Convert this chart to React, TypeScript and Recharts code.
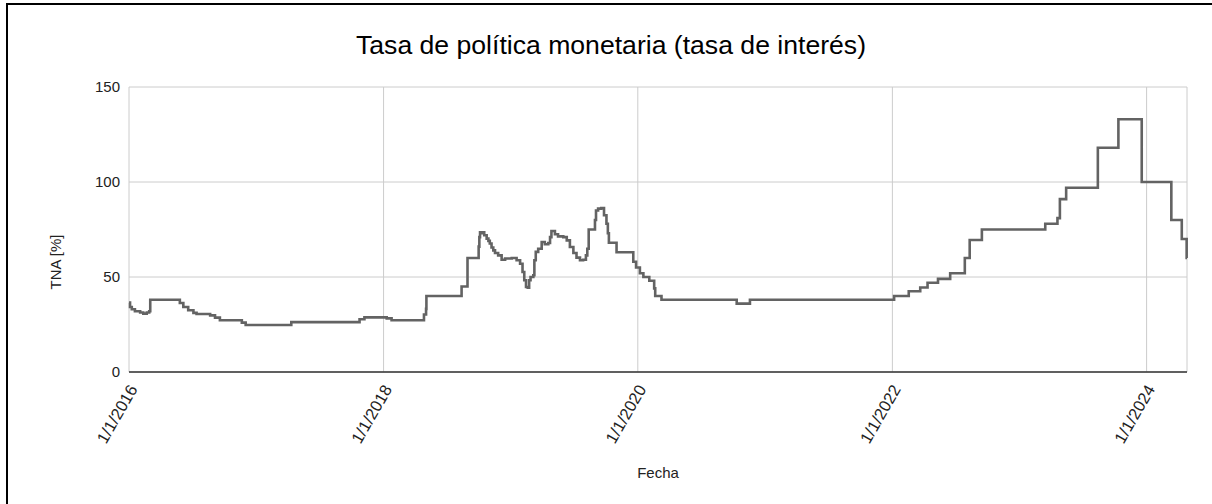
import React from 'react';
import { LineChart, Line, XAxis, YAxis, CartesianGrid, Label } from 'recharts';

// Dates on which the policy rate changed (the rate holds until the next date)
const changeDates = [
  '2016-01-01', '2016-01-04', '2016-01-09', '2016-01-18', '2016-02-02', '2016-02-11',
  '2016-02-21', '2016-02-28', '2016-03-02', '2016-05-19', '2016-05-26', '2016-06-05',
  '2016-06-19', '2016-07-04', '2016-07-13', '2016-08-21', '2016-09-04', '2016-09-18',
  '2016-11-20', '2016-12-01', '2017-04-11', '2017-10-24', '2017-11-07', '2018-01-10',
  '2018-01-24', '2018-04-27', '2018-05-03', '2018-05-04', '2018-08-13', '2018-08-30',
  '2018-10-01', '2018-10-03', '2018-10-05', '2018-10-10', '2018-10-12', '2018-10-17',
  '2018-10-24', '2018-10-29', '2018-11-02', '2018-11-07', '2018-11-12', '2018-11-17',
  '2018-11-26', '2018-12-06', '2018-12-16', '2019-01-04', '2019-01-18', '2019-01-28',
  '2019-02-04', '2019-02-09', '2019-02-14', '2019-02-19', '2019-02-23', '2019-02-27',
  '2019-03-07', '2019-03-10', '2019-03-14', '2019-03-21', '2019-03-31', '2019-04-09',
  '2019-04-19', '2019-04-24', '2019-04-28', '2019-05-08', '2019-05-17', '2019-06-01',
  '2019-06-11', '2019-06-20', '2019-06-30', '2019-07-09', '2019-07-19', '2019-07-28',
  '2019-08-05', '2019-08-09', '2019-08-13', '2019-08-31', '2019-09-03', '2019-09-09',
  '2019-09-18', '2019-09-26', '2019-10-03', '2019-10-07', '2019-10-10', '2019-11-01',
  '2019-12-19', '2019-12-27', '2020-01-07', '2020-01-17', '2020-02-03', '2020-02-17',
  '2020-02-20', '2020-03-09', '2020-10-11', '2020-11-18', '2022-01-06', '2022-02-17',
  '2022-03-22', '2022-04-12', '2022-05-12', '2022-06-16', '2022-07-28', '2022-08-11',
  '2022-09-15', '2023-03-16', '2023-04-20', '2023-04-27', '2023-05-15', '2023-08-14',
  '2023-10-12', '2023-12-18', '2024-03-12', '2024-04-11', '2024-04-25', '2024-04-26',
];

// Nominal annual rate (TNA, %) in force from each date above
const rateValues = [
  36.5, 34.2, 33, 32, 31.3, 30.7,
  31.3, 32, 38, 38, 36.3, 34.2,
  32.5, 31.1, 30.5, 29.8, 28.6, 27.25,
  26, 24.75, 26.25, 27.75, 28.75, 28.25,
  27.25, 30.25, 33.25, 40, 45, 60,
  66, 71, 73.5, 73, 73.5, 72,
  70.2, 69, 67.6, 65.5, 64, 62.6,
  61.4, 59.1, 59.7, 60, 58.8, 57,
  52.6, 48.3, 44.7, 44.4, 48.3, 50,
  50.9, 58.8, 63.2, 64.9, 68.4, 67.2,
  67.9, 71, 74.2, 72.5, 71.4, 71,
  69.3, 65.8, 62.6, 60.2, 58.8, 59.1,
  61.4, 64.9, 75, 80, 85, 86,
  86.3, 82.5, 78, 73, 68, 63,
  58, 55, 52, 50, 48, 44,
  40, 38, 36, 38, 40, 42.5,
  44.5, 47, 49, 52, 60, 69.5,
  75, 78, 81, 91, 97, 118,
  133, 100, 80, 70, 60, 60,
];

const dateTicks = ['2016-01-01', '2018-01-01', '2020-01-01', '2022-01-01', '2024-01-01'];
const rateTicks = [0, 50, 100, 150];

const FONT = '"Liberation Sans", Arial, Helvetica, sans-serif';

const toTime = (s: string) => {
  const [y, m, d] = s.split('-').map(Number);
  return Date.UTC(y, m - 1, d);
};

const data = changeDates.map((d, i) => ({ t: toTime(d), v: rateValues[i] }));

const formatDate = (t: number) => {
  const d = new Date(t);
  return `${d.getUTCMonth() + 1}/${d.getUTCDate()}/${d.getUTCFullYear()}`;
};

const DateTick = (props: any) => {
  const { x, y, payload } = props;
  return (
    <g transform={`translate(${x + 9},${y + 17})`}>
      <text
        x={0}
        y={0}
        textAnchor="end"
        transform="rotate(-60)"
        fontSize={16.5}
        fontFamily={FONT}
        fill="#222"
      >
        {formatDate(payload.value)}
      </text>
    </g>
  );
};

export default function App() {
  return (
    <div style={{ position: 'absolute', left: 0, top: 0, width: 1212, height: 504, background: '#fff', overflow: 'hidden' }}>
      <div
        style={{
          position: 'absolute',
          left: 6,
          top: 3,
          right: 0,
          bottom: 0,
          borderLeft: '2px solid #000',
          borderTop: '2px solid #000',
        }}
      />
      <div
        style={{
          position: 'absolute',
          left: 0,
          width: 1222,
          top: 32,
          textAlign: 'center',
          fontFamily: FONT,
          fontSize: 26.6,
          lineHeight: '26px',
          color: '#000',
          whiteSpace: 'nowrap',
        }}
      >
        Tasa de política monetaria (tasa de interés)
      </div>
      <div style={{ position: 'absolute', left: 0, top: 0 }}>
        <LineChart
          width={1212}
          height={504}
          data={data}
          margin={{ top: 87, right: 25, bottom: 32, left: 0 }}
        >
          <CartesianGrid stroke="#cccccc" strokeWidth={1} />
          <XAxis
            dataKey="t"
            type="number"
            domain={['dataMin', 'dataMax']}
            ticks={dateTicks.map(toTime)}
            interval={0}
            height={100}
            tickSize={0}
            tickMargin={0}
            tickLine={false}
            axisLine={{ stroke: '#333', strokeWidth: 1.5 }}
            tick={<DateTick />}
          >
            <Label
              content={(p: any) => {
                const vb = p.viewBox || {};
                return (
                  <text
                    x={vb.x + vb.width / 2}
                    y={478}
                    textAnchor="middle"
                    fontSize={15}
                    fontFamily={FONT}
                    fill="#222"
                  >
                    Fecha
                  </text>
                );
              }}
            />
          </XAxis>
          <YAxis
            type="number"
            domain={[0, 150]}
            ticks={rateTicks}
            width={129}
            axisLine={false}
            tickLine={false}
            tickMargin={3}
            tick={{ fill: '#222', fontSize: 15, fontFamily: FONT }}
          >
            <Label
              content={() => (
                <text
                  x={61}
                  y={262}
                  textAnchor="middle"
                  transform="rotate(-90, 61, 262)"
                  fontSize={15}
                  fontFamily={FONT}
                  fill="#222"
                >
                  TNA [%]
                </text>
              )}
            />
          </YAxis>
          <Line
            type="stepAfter"
            dataKey="v"
            stroke="#636363"
            strokeWidth={2.6}
            dot={false}
            isAnimationActive={false}
          />
        </LineChart>
      </div>
    </div>
  );
}
